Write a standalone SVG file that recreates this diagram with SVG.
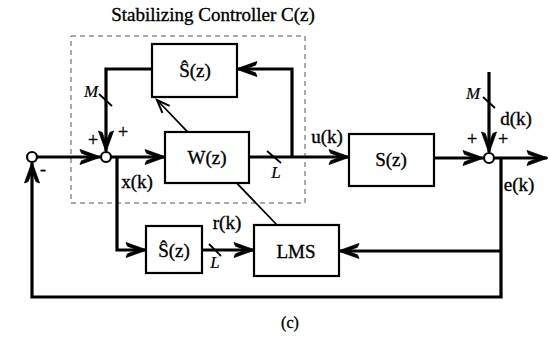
<svg xmlns="http://www.w3.org/2000/svg" width="549" height="354" viewBox="0 0 549 354" font-family="'Liberation Serif', 'DejaVu Serif', serif">
<style>
  text { font-family: 'Liberation Serif', 'DejaVu Serif', serif; fill: #000; stroke: #000; stroke-width: 0.35; }
  .lbl { font-size: 19px; }
  .blk { font-size: 19px; text-anchor: middle; dominant-baseline: central; }
  .it { font-style: italic; font-size: 17px; stroke-width: 0.2; }
  .box { fill: #fff; stroke: #000; stroke-width: 2.2; }
  .wire { fill: none; stroke: #000; stroke-width: 3.2; }
  .thin { fill: none; stroke: #000; stroke-width: 1.8; }
  .tick { fill: none; stroke: #000; stroke-width: 1.8; }
  .node { fill: #fff; stroke: #000; stroke-width: 2.2; }
</style>
<defs>
  <marker id="arr" markerUnits="userSpaceOnUse" markerWidth="26" markerHeight="18" viewBox="-22 -9 26 18" refX="0" refY="0" orient="auto" overflow="visible">
    <path d="M1,0 L-20,-7.5 L-18.5,-3.8 L-8,0 L-18.5,3.8 L-20,7.5 Z" fill="#000" stroke="#000" stroke-width="0.8"/>
  </marker>
  <marker id="arrThin" markerUnits="userSpaceOnUse" markerWidth="16" markerHeight="14" viewBox="-14 -7 16 14" refX="0" refY="0" orient="auto" overflow="visible">
    <path d="M-13,-5 L0,0 L-13,5" fill="none" stroke="#000" stroke-width="2"/>
  </marker>
</defs>
<rect width="549" height="354" fill="#fff"/>

<g id="controller-boundary">
  <rect x="71" y="36" width="234" height="167" fill="none" stroke="#555" stroke-width="1" stroke-dasharray="5,4"/>
  <text x="213" y="21" font-size="19" text-anchor="middle" stroke-width="0.2">Stabilizing Controller C(z)</text>
</g>

<g id="connectors">
  <path class="wire" d="M37,157 L100,157" marker-end="url(#arr)"/>
  <path class="wire" d="M111,157 L165,157" marker-end="url(#arr)"/>
  <path class="wire" d="M249,157 L349,157" marker-end="url(#arr)"/>
  <path class="wire" d="M292,157 L292,69 L237,69" marker-end="url(#arr)"/>
  <path class="wire" d="M152,69 L106,69 L106,151" marker-end="url(#arr)"/>
  <path class="wire" d="M434,158 L483,158" marker-end="url(#arr)"/>
  <path class="wire" d="M495,158 L547,158" marker-end="url(#arr)"/>
  <path class="wire" d="M489,72 L489,152" marker-end="url(#arr)"/>
  <path class="wire" d="M501,158 L501,297 L32,297 L32,163" marker-end="url(#arr)"/>
  <path class="wire" d="M501,251 L339,251" marker-end="url(#arr)"/>
  <path class="wire" d="M117,157 L117,250 L146,250" marker-end="url(#arr)"/>
  <path class="wire" d="M202,250 L254,250" marker-end="url(#arr)"/>
  <path class="thin" d="M277,225 L157,100" marker-end="url(#arrThin)"/>
  <path class="tick" d="M99,94 L112,106"/>
  <path class="tick" d="M483,97 L495,108"/>
  <path class="tick" d="M267,151 L281,163"/>
  <path class="tick" d="M209,244 L221,256"/>
</g>

<g id="sum-left">
  <circle class="node" cx="32" cy="157" r="5"/>
  <text x="43" y="175" font-size="18" text-anchor="middle">-</text>
</g>
<g id="sum-controller">
  <circle class="node" cx="106" cy="157" r="5"/>
  <text x="93" y="146" font-size="18" text-anchor="middle">+</text>
  <text x="123" y="138" font-size="18" text-anchor="middle">+</text>
  <text class="it" x="91" y="97" text-anchor="middle">M</text>
</g>
<g id="sum-right">
  <circle class="node" cx="489" cy="158" r="5"/>
  <text x="472" y="145" font-size="18" text-anchor="middle">+</text>
  <text x="503" y="145" font-size="18" text-anchor="middle">+</text>
  <text class="it" x="473" y="99" text-anchor="middle">M</text>
  <text class="lbl" x="516" y="125" text-anchor="middle">d(k)</text>
</g>

<g id="shat-top">
  <rect class="box" x="152" y="44" width="85" height="53"/>
  <text class="blk" x="195" y="70">Ŝ(z)</text>
</g>
<g id="w">
  <rect class="box" x="165" y="132" width="84" height="51"/>
  <text class="blk" x="207" y="157">W(z)</text>
  <text class="it" x="276" y="178" text-anchor="middle">L</text>
</g>
<g id="s">
  <rect class="box" x="349" y="134" width="85" height="52"/>
  <text class="blk" x="391" y="159">S(z)</text>
</g>
<g id="shat-bottom">
  <rect class="box" x="146" y="226" width="56" height="47"/>
  <text class="blk" x="174" y="250">Ŝ(z)</text>
  <text class="it" x="215" y="268" text-anchor="middle">L</text>
</g>
<g id="lms">
  <rect class="box" x="254" y="225" width="85" height="51"/>
  <text class="blk" x="296" y="251">LMS</text>
</g>

<g id="signal-labels">
  <text class="lbl" x="327" y="143" text-anchor="middle">u(k)</text>
  <text class="lbl" x="137" y="188" text-anchor="middle">x(k)</text>
  <text class="lbl" x="227" y="229" text-anchor="middle">r(k)</text>
  <text class="lbl" x="519" y="191" text-anchor="middle">e(k)</text>
</g>

<text x="290" y="328" font-size="16" text-anchor="middle" stroke-width="0.2">(c)</text>
</svg>
